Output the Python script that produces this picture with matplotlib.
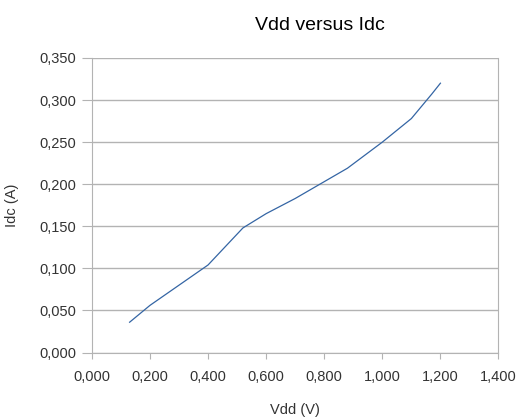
import matplotlib
matplotlib.use('Agg')
import matplotlib.pyplot as plt
from matplotlib.ticker import FuncFormatter, MultipleLocator

plt.rcParams['font.family'] = ['Liberation Sans', 'DejaVu Sans']

vdd = [0.13, 0.20, 0.30, 0.40, 0.52, 0.60, 0.70, 0.80, 0.88, 1.00, 1.10, 1.17, 1.20]
idc = [0.036, 0.056, 0.080, 0.104, 0.148, 0.165, 0.183, 0.203, 0.219, 0.250, 0.278, 0.307, 0.320]

fig = plt.figure(figsize=(5.19, 4.2), dpi=100)
ax = fig.add_axes([0.177, 0.1607, 0.7835, 0.7013])

ax.plot(vdd, idc, color='#3465a4', lw=0.9)

ax.set_xlim(0, 1.4)
ax.set_ylim(0, 0.35)
ax.xaxis.set_major_locator(MultipleLocator(0.2))
ax.yaxis.set_major_locator(MultipleLocator(0.05))
fmt = FuncFormatter(lambda v, p: ('%.3f' % v).replace('.', ','))
ax.xaxis.set_major_formatter(fmt)
ax.yaxis.set_major_formatter(fmt)

ax.grid(True, axis='y', color='#b3b3b3', lw=1.0)
ax.set_axisbelow(True)
for s in ax.spines.values():
    s.set_color('#b3b3b3')
ax.spines['top'].set_visible(False)
ax.tick_params(colors='#b3b3b3', labelcolor='#333333', labelsize=10.5)
ax.tick_params(axis='x', length=4.5, pad=8)
ax.tick_params(axis='y', length=7, pad=4)

ax.set_xlabel('Vdd (V)', fontsize=10.5, color='#333333', labelpad=14)
ax.set_ylabel('Idc (A)', fontsize=10.5, color='#333333', labelpad=14.5)
fig.suptitle('Vdd versus Idc', fontsize=14, y=0.96, x=0.617)

fig.savefig('out.png', dpi=100)
